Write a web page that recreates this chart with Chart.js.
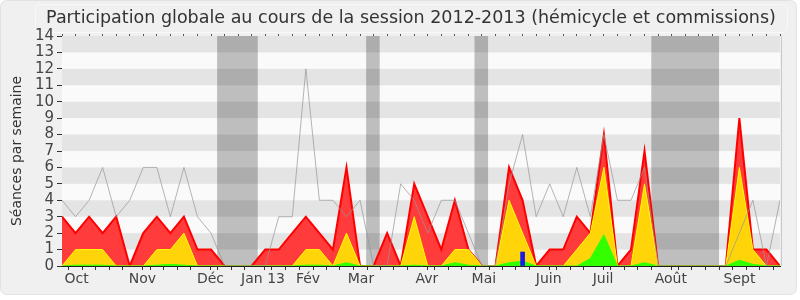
<!DOCTYPE html>
<html><head><meta charset="utf-8">
<script src="https://cdn.jsdelivr.net/npm/chart.js@4/dist/chart.umd.min.js"></script>
<style>html,body{margin:0;padding:0;background:#fff}#wrap{width:800px;height:300px}</style>
</head><body><div id="wrap"><canvas id="c" width="800" height="300"></canvas></div>
<script>
// ---- data (one value per week of the 2012-2013 session) ----
const weeks = [0,1,2,3,4,5,6,7,8,9,10,11,12,13,14,15,16,17,18,19,20,21,22,23,24,25,26,
  27,28,29,30,31,32,33,34,35,36,37,38,39,40,41,42,43,44,45,46,47,48,49,50,51,52,53];
const presences = [3,2,3,2,3,0,2,3,2,3,1,1,0,0,0,1,1,2,3,2,1,6,0,0,2,0,5,3,1,4,1,0,0,6,4,0,
  1,1,3,2,8,0,1,7,0,0,0,0,0,0,9,1,1,0];
const interventions = [0,1,1,1,0,0,0,1,1,2,0,0,0,0,0,0,0,0,1,1,0,2,0,0,0,0,3,0,0,1,1,0,0,4,2,0,
  0,0,1,2,6,0,0,5,0,0,0,0,0,0,6,1,0,0];
const questions = [0,0.05,0.05,0.05,0,0,0,0.05,0.1,0.05,0,0,0,0,0,0,0,0,0.05,0.05,0,0.2,0,0,0,0,0.05,0,0,0.2,0.05,0,0,0.2,0.3,0,
  0,0,0,0.45,1.9,0,0,0.2,0,0,0,0,0,0,0.35,0.1,0,0];
const mediane = [4,3,4,6,3,4,6,6,3,6,3,2,0,0,0,0,3,3,12,4,4,3,4,0,0,5,4,2,4,4,2,0,0,5,8,3,
  5,3,6,3,8,4,4,6,0,0,0,0,0,0,2,4,0,4];
const rapportWeeks = [34];
const rapportValues = [0.85];
const vacations = [[11.45,14.45],[22.45,23.45],[30.45,31.45],[43.5,48.5]];
const monthLabels = ['Oct','Nov','Déc','Jan 13','Fév','Mar','Avr','Mai','Juin','Juil','Août','Sept'];
const monthPos = [1.08,5.93,10.96,14.84,18.16,22.07,26.94,31.14,35.93,39.94,44.94,50.01];
const yTicks = [0,1,2,3,4,5,6,7,8,9,10,11,12,13,14];

const FONT = "'DejaVu Sans', sans-serif";
Chart.defaults.font.family = FONT;
const pts = arr => arr.map((v,i) => ({x: weeks[i], y: v}));

const bgPlugin = {
  id: 'bg',
  beforeDraw(chart) {
    const c = chart.ctx;
    c.save();
    c.fillStyle = '#ffffff'; c.fillRect(0,0,800,300);
    c.beginPath(); c.roundRect(0.5,0.5,796,294,6);
    c.fillStyle = '#f0f0f0'; c.fill();
    c.strokeStyle = '#e2e2e2'; c.lineWidth = 1; c.stroke();
    c.beginPath(); c.roundRect(35.5,4.5,752,28,4);
    c.strokeStyle = '#f8f8f8'; c.stroke();
    c.restore();
  },
  beforeDatasetsDraw(chart) {
    const c = chart.ctx, a = chart.chartArea, xs = chart.scales.x, ys = chart.scales.y;
    c.save();
    c.fillStyle = '#fafafa'; c.fillRect(a.left, a.top, a.width, a.height);
    c.fillStyle = '#bebebe';
    vacations.forEach(([s,e]) => {
      const x0 = xs.getPixelForValue(s), x1 = xs.getPixelForValue(e);
      c.fillRect(x0, a.top, x1 - x0, a.height);
    });
    c.fillStyle = 'rgba(0,0,0,0.085)';
    for (let k = 1; k < yTicks[yTicks.length-1]; k += 2) {
      const y0 = ys.getPixelForValue(k+1), y1 = ys.getPixelForValue(k);
      c.fillRect(a.left, y0, a.width, y1 - y0);
    }
    c.strokeStyle = '#c8c8c8'; c.lineWidth = 1;
    c.beginPath(); c.moveTo(a.right+1.5, a.top); c.lineTo(a.right+1.5, a.bottom); c.stroke();
    c.restore();
  },
  afterLayout(chart) {
    if (chart.titleBlock) { chart.titleBlock.left = 22; }
  }
};

new Chart(document.getElementById('c'), {
  type: 'line',
  data: {
    datasets: [
      {label:'Présences', data: pts(presences), borderColor:'#ff0000', backgroundColor:'#ff3b3b',
       borderWidth:2, fill:'origin', pointRadius:0, tension:0, order:4},
      {label:'Interventions', data: pts(interventions), borderColor:'#ffff00', backgroundColor:'#ffd50a',
       borderWidth:1, fill:'origin', pointRadius:0, tension:0, order:3},
      {label:'Questions', data: pts(questions), borderColor:'#33ff00', backgroundColor:'#33ff00',
       borderWidth:1, fill:'origin', pointRadius:0, tension:0, order:2},
      {label:'Médiane', data: pts(mediane), borderColor:'rgba(150,150,150,0.7)', backgroundColor:'transparent',
       borderWidth:1, fill:false, pointRadius:0, tension:0, order:1},
      {type:'bar', label:'Rapports', data: rapportWeeks.map((w,i)=>({x:w, y:rapportValues[i]})),
       backgroundColor:'#1a1ae6', barThickness:4, order:0}
    ]
  },
  options: {
    responsive: false, animation: false, devicePixelRatio: 1,
    layout: {padding: 0},
    plugins: {
      legend: {display:false}, tooltip: {enabled:false},
      title: {display:true, text:'Participation globale au cours de la session 2012-2013 (hémicycle et commissions)',
        color:'#333', font:{size:17.5, weight:'normal', family:FONT}, padding:{top:8,bottom:7}}
    },
    scales: {
      x: {type:'linear', min:0, max:53, offset:false, position:'bottom',
        afterBuildTicks(s){
          const t = weeks.concat(monthPos).sort((a,b)=>a-b);
          s.ticks = t.map(v=>({value:v}));
        },
        afterFit(s){ s.height = 34; },
        grid: {drawOnChartArea:false, drawTicks:true, tickLength:4, tickWidth:1,
          tickColor: c => (c.tick && Number.isInteger(c.tick.value)) ? '#333' : 'rgba(0,0,0,0)'},
        border: {display:true, color:'#222', width:1},
        ticks: {autoSkip:false, maxRotation:0, minRotation:0, padding:1, color:'#444', font:{size:14},
          callback: v => { const k = monthPos.indexOf(v); return k >= 0 ? monthLabels[k] : ''; }}
      },
      xTop: {type:'linear', min:0, max:53, offset:false, position:'top',
        afterBuildTicks(s){ s.ticks = weeks.map(v=>({value:v})); },
        afterFit(s){ s.height = 0; },
        grid: {drawOnChartArea:false, tickLength:2, tickColor:'#555'},
        border: {display:false},
        ticks: {display:true, autoSkip:false, callback: () => '', padding:0, font:{size:1}}
      },
      y: {type:'linear', min:0, max:14, position:'left',
        afterBuildTicks(s){ s.ticks = yTicks.map(v=>({value:v})); },
        afterFit(s){ s.width = 62; },
        ticks: {autoSkip:false, color:'#444', font:{size:15}, padding:3},
        grid: {drawOnChartArea:false, tickLength:5, tickColor:'#333'},
        border: {color:'#222'},
        title: {display:true, text:'Séances par semaine', color:'#333', font:{size:14}, padding:{top:9,bottom:0}}
      },
      yr: {type:'linear', position:'right', afterFit(s){ s.width = 20; },
        grid:{display:false}, border:{display:false}, ticks:{display:false}}
    }
  },
  plugins: [bgPlugin]
});
</script></body></html>
